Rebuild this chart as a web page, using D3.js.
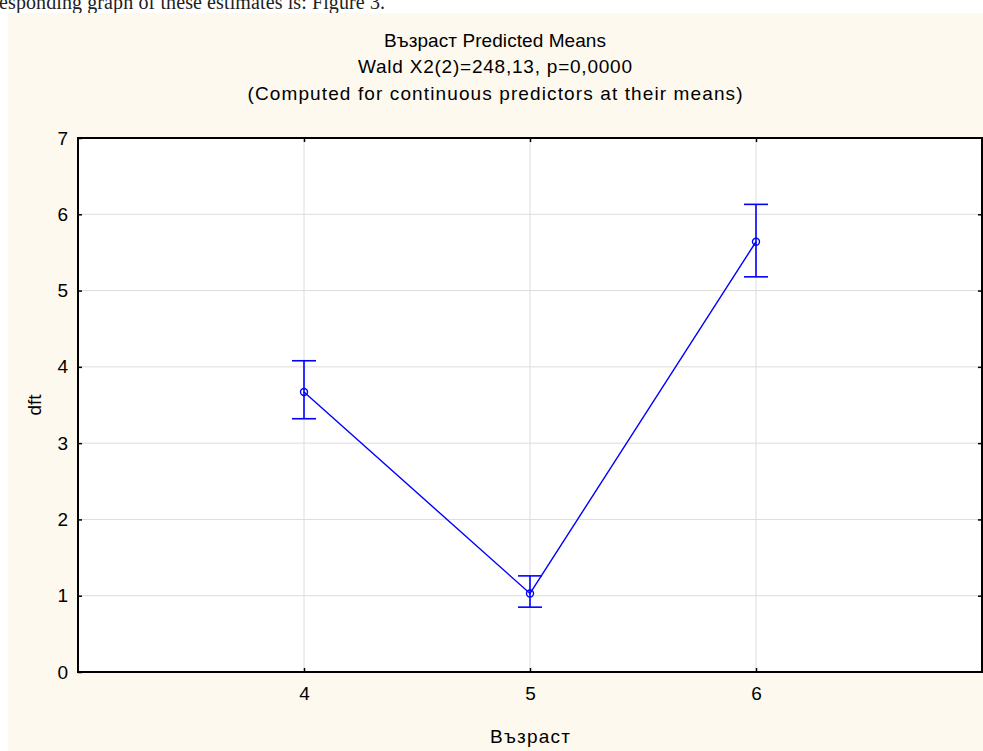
<!DOCTYPE html>
<html>
<head>
<meta charset="utf-8">
<script src="https://cdn.jsdelivr.net/npm/d3@7"></script>
<style>
  body { margin: 0; background: #fff; }
  svg { display: block; }
</style>
</head>
<body>
<div id="chart"></div>
<script>
const ages = [4, 5, 6];
const means = [3.67, 1.03, 5.64];
const upper = [4.08, 1.26, 6.13];
const lower = [3.32, 0.85, 5.18];
const yTicks = [0, 1, 2, 3, 4, 5, 6, 7];
const xTicks = [4, 5, 6];
const titles = [
  "Възраст Predicted Means",
  "Wald  X2(2)=248,13, p=0,0000",
  "(Computed for continuous predictors at their means)"
];
const titleWidths = [222, 274, 495];

const W = 983, H = 751;
const margin = {top: 138, right: 1, bottom: 79, left: 78},
  width = W - margin.left - margin.right,
  height = H - margin.top - margin.bottom;

const root = d3.select("#chart")
  .append("svg")
  .attr("width", W)
  .attr("height", H);

// text of the page above the figure
root.append("text")
  .attr("x", -1)
  .attr("y", 9)
  .style("font-family", "'Liberation Serif', 'Times New Roman', serif")
  .style("font-size", "20px")
  .attr("fill", "#222")
  .attr("textLength", 386)
  .text("esponding graph of these estimates is: Figure 3.");

// cream panel
root.append("rect")
  .attr("x", 8).attr("y", 13)
  .attr("width", W - 8).attr("height", H - 13)
  .attr("fill", "#fef9ef");

const font = "'Liberation Sans', Arial, sans-serif";
const fs = "19px";

root.selectAll(".title")
  .data(titles)
  .enter()
  .append("text")
  .attr("class", "title")
  .attr("x", 495)
  .attr("y", (d, i) => 46.5 + i * 26.5)
  .attr("text-anchor", "middle")
  .attr("textLength", (d, i) => titleWidths[i])
  .attr("lengthAdjust", "spacing")
  .style("font-family", font)
  .style("font-size", fs)
  .text(d => d);

const svg = root.append("g")
  .attr("transform", `translate(${margin.left},${margin.top})`);

const x = d3.scaleLinear().domain([3, 7]).range([0, width]);
const y = d3.scaleLinear().domain([0, 7]).range([height, 0]);

svg.append("rect")
  .attr("width", width)
  .attr("height", height)
  .attr("fill", "#fff");

// grid
svg.append("g")
  .selectAll("line")
  .data(yTicks.slice(1, -1))
  .enter()
  .append("line")
  .attr("x1", 0).attr("x2", width)
  .attr("y1", d => y(d)).attr("y2", d => y(d))
  .attr("stroke", "#dcdcdc");

svg.append("g")
  .selectAll("line")
  .data(xTicks)
  .enter()
  .append("line")
  .attr("y1", 0).attr("y2", height)
  .attr("x1", d => x(d)).attr("x2", d => x(d))
  .attr("stroke", "#dcdcdc");

// axes
const styleAxis = g => {
  g.select(".domain").remove();
  g.selectAll(".tick line").attr("stroke", "#000").attr("stroke-width", 1.5);
  g.selectAll(".tick text")
    .style("font-family", font)
    .style("font-size", fs)
    .attr("fill", "#000");
};

svg.append("g")
  .call(d3.axisLeft(y).tickValues(yTicks).tickSize(-4).tickPadding(10).tickFormat(d3.format("d")))
  .call(styleAxis);

svg.append("g")
  .attr("transform", `translate(${width},0)`)
  .call(d3.axisRight(y).tickValues(yTicks.slice(1, -1)).tickSize(-4).tickFormat(""))
  .call(styleAxis);

svg.append("g")
  .attr("transform", `translate(0,${height})`)
  .call(d3.axisBottom(x).tickValues(xTicks).tickSize(-4).tickPadding(15).tickFormat(d3.format("d")))
  .call(styleAxis);

svg.append("g")
  .call(d3.axisTop(x).tickValues(xTicks).tickSize(-4).tickFormat(""))
  .call(styleAxis);

// frame
svg.append("rect")
  .attr("width", width)
  .attr("height", height)
  .attr("fill", "none")
  .attr("stroke", "#000")
  .attr("stroke-width", 2);

// axis titles
root.append("text")
  .attr("x", margin.left + width / 2)
  .attr("y", 743)
  .attr("text-anchor", "middle")
  .attr("textLength", 80)
  .attr("lengthAdjust", "spacing")
  .style("font-family", font)
  .style("font-size", fs)
  .text("Възраст");

root.append("text")
  .attr("transform", `translate(41,${margin.top + height / 2}) rotate(-90)`)
  .attr("text-anchor", "middle")
  .style("font-family", font)
  .style("font-size", fs)
  .text("dft");

const data = ages.map((a, i) => ({a, m: means[i], hi: upper[i], lo: lower[i]}));
const blue = "#0000ff";

svg.append("path")
  .datum(data)
  .attr("fill", "none")
  .attr("stroke", blue)
  .attr("stroke-width", 1.4)
  .attr("d", d3.line().x(d => x(d.a)).y(d => y(d.m)));

const eb = svg.selectAll(".eb")
  .data(data)
  .enter()
  .append("g")
  .attr("class", "eb")
  .attr("stroke", blue)
  .attr("stroke-width", 1.6);

eb.append("line")
  .attr("x1", d => x(d.a)).attr("x2", d => x(d.a))
  .attr("y1", d => y(d.hi)).attr("y2", d => y(d.lo));
eb.append("line")
  .attr("x1", d => x(d.a) - 12).attr("x2", d => x(d.a) + 12)
  .attr("y1", d => y(d.hi)).attr("y2", d => y(d.hi));
eb.append("line")
  .attr("x1", d => x(d.a) - 12).attr("x2", d => x(d.a) + 12)
  .attr("y1", d => y(d.lo)).attr("y2", d => y(d.lo));

svg.selectAll(".pt")
  .data(data)
  .enter()
  .append("circle")
  .attr("class", "pt")
  .attr("cx", d => x(d.a))
  .attr("cy", d => y(d.m))
  .attr("r", 3.5)
  .attr("fill", "none")
  .attr("stroke", blue)
  .attr("stroke-width", 1.4);
</script>
</body>
</html>
